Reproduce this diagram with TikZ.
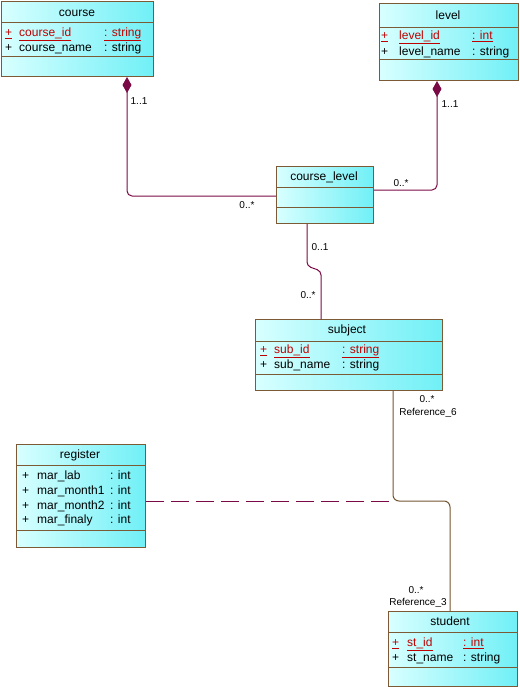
\documentclass[tikz,border=0pt]{standalone}
\usepackage{fontspec}
\setmainfont{Liberation Sans}
\usepackage{xcolor}
\usepackage{tikz}
\usetikzlibrary{calc,arrows.meta}
\definecolor{boxline}{HTML}{7B5A35}
\definecolor{assocline}{HTML}{7A0A45}
\definecolor{refline}{HTML}{735530}
\definecolor{keyred}{HTML}{C00000}
\definecolor{fillleft}{HTML}{D8FFFF}
\definecolor{fillright}{HTML}{70F0F6}

\begin{document}
\begin{tikzpicture}[x=1pt,y=-1pt,
    classbox/.style={draw=boxline, left color=fillleft, right color=fillright,
      anchor=north west, inner sep=0pt, line width=1pt},
    sepline/.style={draw=boxline, line width=1pt},
    txt/.style={font=\fontsize{12}{14}\selectfont, inner sep=0pt,
      text height=10.5pt, text depth=1.5pt, anchor=west},
    ttl/.style={txt, anchor=center},
    key/.style={txt, text=keyred},
    mult/.style={font=\fontsize{10}{12}\selectfont, inner sep=0pt},
    assoc/.style={draw=assocline, line width=1pt, rounded corners=5pt},
    comp/.style={assoc, {Diamond[length=16pt,width=9pt]}-},
    reflink/.style={draw=refline, line width=1pt, rounded corners=6pt},
    linkdash/.style={draw=assocline, line width=1pt, dash pattern=on 18pt off 7pt}]
  \useasboundingbox (0,0) rectangle (519,687);

  % classes
  \node[classbox, minimum width=152pt, minimum height=75pt] (course) at (1,1) {};
  \draw[sepline] (1,23) -- (153,23);
  \draw[sepline] (1,57) -- (153,57);
  \node[ttl] (course title) at (77,12) {course};
  \node[key] (course k1) at (5,32) {\underline{+}};
  \node[key] (course k2) at (19,32) {\underline{course\_id}};
  \node[key] (course k3) at (104,32) {\underline{: string}};
  \node[txt] (course a1) at (5,47) {+};
  \node[txt] (course a2) at (19,47) {course\_name};
  \node[txt] (course a3) at (104,47) {: string};

  \node[classbox, minimum width=139pt, minimum height=77pt] (level) at (379,3) {};
  \draw[sepline] (379,28) -- (518,28);
  \draw[sepline] (379,60) -- (518,60);
  \node[ttl] (level title) at (448,15) {level};
  \node[key] (level k1) at (381,35) {\underline{+}};
  \node[key] (level k2) at (399,35) {\underline{level\_id}};
  \node[key] (level k3) at (472,35) {\underline{: int}};
  \node[txt] (level a1) at (381,51) {+};
  \node[txt] (level a2) at (399,51) {level\_name};
  \node[txt] (level a3) at (472,51) {: string};

  \node[classbox, minimum width=97pt, minimum height=57pt] (course_level) at (276,166) {};
  \draw[sepline] (276,187) -- (373,187);
  \draw[sepline] (276,207) -- (373,207);
  \node[ttl] (course_level title) at (324,176) {course\_level};

  \node[classbox, minimum width=187pt, minimum height=71pt] (subject) at (255,319) {};
  \draw[sepline] (255,341) -- (442,341);
  \draw[sepline] (255,374) -- (442,374);
  \node[ttl] (subject title) at (347,329) {subject};
  \node[key] (subject k1) at (260,349) {\underline{+}};
  \node[key] (subject k2) at (274,349) {\underline{sub\_id}};
  \node[key] (subject k3) at (342,349) {\underline{: string}};
  \node[txt] (subject a1) at (260,364) {+};
  \node[txt] (subject a2) at (274,364) {sub\_name};
  \node[txt] (subject a3) at (342,364) {: string};

  \node[classbox, minimum width=129pt, minimum height=103pt] (register) at (16,444) {};
  \draw[sepline] (16,465) -- (145,465);
  \draw[sepline] (16,530) -- (145,530);
  \node[ttl] (register title) at (80,454) {register};
  \node[txt] (register p1) at (22,475) {+};
  \node[txt] (register n1) at (37,475) {mar\_lab};
  \node[txt] (register t1) at (110,475) {: int};
  \node[txt] (register p2) at (22,490) {+};
  \node[txt] (register n2) at (37,490) {mar\_month1};
  \node[txt] (register t2) at (110,490) {: int};
  \node[txt] (register p3) at (22,505) {+};
  \node[txt] (register n3) at (37,505) {mar\_month2};
  \node[txt] (register t3) at (110,505) {: int};
  \node[txt] (register p4) at (22,519) {+};
  \node[txt] (register n4) at (37,519) {mar\_finaly};
  \node[txt] (register t4) at (110,519) {: int};

  \node[classbox, minimum width=129pt, minimum height=75pt] (student) at (388,611) {};
  \draw[sepline] (388,632) -- (517,632);
  \draw[sepline] (388,667) -- (517,667);
  \node[ttl] (student title) at (450,621) {student};
  \node[key] (student k1) at (392,642) {\underline{+}};
  \node[key] (student k2) at (407,642) {\underline{st\_id}};
  \node[key] (student k3) at (463,642) {\underline{: int}};
  \node[txt] (student a1) at (392,657) {+};
  \node[txt] (student a2) at (407,657) {st\_name};
  \node[txt] (student a3) at (463,657) {: string};

  % associations
  \draw[comp] ($(course.south west)+(126,0)$) |- ($(course_level.north west)+(0,30)$);
  \node[mult] (m course) at (139,101) {1..1};
  \node[mult] (m cl west) at (247,205) {0..*};

  \draw[comp] ($(level.south west)+(58,0)$) |- ($(course_level.north east)+(0,24)$);
  \node[mult] (m level) at (450,104) {1..1};
  \node[mult] (m cl east) at (401,183) {0..*};

  \draw[assoc, rounded corners=4pt] ($(course_level.south west)+(31,0)$) -- ++(0,42)
    -- ++(14,5) -- ($(subject.north west)+(66,0)$);
  \node[mult] (m cl south) at (320,247) {0..1};
  \node[mult] (m subject) at (308,295) {0..*};

  \coordinate (refbend) at ($(subject.south west)+(138,110)$);
  \coordinate (studtop) at ($(student.north west)+(62,0)$);
  \draw[reflink] (refbend |- subject.south) -- (refbend) -- (refbend -| studtop) -- (studtop);
  \draw[linkdash] (register.east |- refbend) -- (refbend);
  \node[mult] (m ref6) at (427,399) {0..*};
  \node[mult] (r ref6) at (428,413) {Reference\_6};
  \node[mult] (m ref3) at (416,590) {0..*};
  \node[mult] (r ref3) at (418,603) {Reference\_3};
\end{tikzpicture}
\end{document}
